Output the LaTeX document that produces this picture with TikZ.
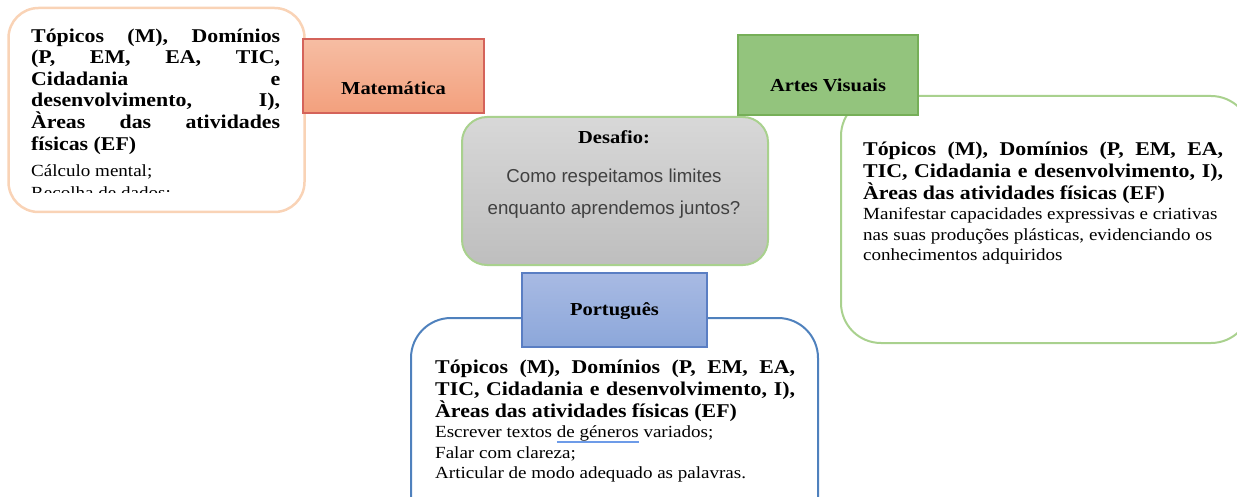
\documentclass[tikz,border=0pt]{standalone}
\usepackage{fontspec}
\setmainfont{Liberation Serif}[FakeStretch=1.12]
\newfontfamily\sansf{Liberation Sans}
\definecolor{peach}{HTML}{F9D3B6}
\definecolor{matfillT}{HTML}{F6BDA3}
\definecolor{matfillB}{HTML}{F3A07D}
\definecolor{matdraw}{HTML}{D4635A}
\definecolor{artfill}{HTML}{93C47D}
\definecolor{artdraw}{HTML}{76AF58}
\definecolor{lgreen}{HTML}{A9D18E}
\definecolor{grayT}{HTML}{D8D8D8}
\definecolor{grayB}{HTML}{BEBEBE}
\definecolor{porfillT}{HTML}{A8BAE3}
\definecolor{porfillB}{HTML}{8CA7DA}
\definecolor{pordraw}{HTML}{5A7EC3}
\definecolor{porbox}{HTML}{4F81BD}
\definecolor{ulblue}{HTML}{6D9BE8}
\definecolor{sanscol}{HTML}{404040}
\newcommand\firstl{\rule{0pt}{16pt}}
\newcommand\bluul[1]{{\setbox0\hbox{#1}\rlap{\color{ulblue}\rule[-5pt]{\wd0}{2.2pt}}\box0}}
\newcommand\boldtxt{\bfseries\fontsize{19.5}{22}\selectfont}
\newcommand\normtxt{\mdseries\fontsize{17}{20.5}\selectfont}
\begin{document}
\begin{tikzpicture}[x=1pt,y=-1pt,
  box/.style={draw, line width=2pt, rectangle, inner sep=0pt},
  hdr/.style={draw, line width=1.2pt, rectangle, inner sep=0pt},
  hdrtxt/.style={inner sep=0pt, font=\bfseries\fontsize{18.3}{20}\selectfont, anchor=base},
  txt/.style={inner sep=0pt, anchor=north west, align=justify}]
\useasboundingbox (0,0) rectangle (1237,497);
\clip (0,0) rectangle (1237,497);
\tolerance=10000 \hbadness=10000
% ---- Matematica
\node[box, draw=peach, line width=2.5pt, minimum width=296pt, minimum height=204pt, rounded corners=30pt] (matbox) at (156.5,110) {};
\begin{scope}
\clip (8,8) rectangle (305,193);
\node[txt, text width=249pt] (mattext) at (31,42-16) {\tolerance=10000\hbadness=10000\fontsize{19.5}{21.6}\bfseries\selectfont\firstl T\'opicos (M), Dom\'inios\linebreak (P, EM, EA, TIC,\linebreak Cidadania e\linebreak desenvolvimento, I),\linebreak \`Areas das atividades\linebreak f\'isicas (EF)\par\vskip 4pt
\mdseries\fontsize{17}{22}\selectfont C\'alculo mental;\par Recolha de dados:\par};
\end{scope}
\node[hdr, draw=matdraw, top color=matfillT, bottom color=matfillB, minimum width=181pt, minimum height=74pt] (mathdr) at (393.5,76) {};
\node[hdrtxt] (mattitle) at (393.5,95) {Matem\'atica};
% ---- Desafio
\node[box, draw=lgreen, top color=grayT, bottom color=grayB, minimum width=306pt, minimum height=148pt, rounded corners=25pt] (desbox) at (615,191) {};
\node[hdrtxt] (destitle) at (614,144) {Desafio:};
\node[inner sep=0pt, anchor=base, text=sanscol, font=\sansf\fontsize{18.7}{20}\selectfont] (desl1) at (614,183) {Como respeitamos limites};
\node[inner sep=0pt, anchor=base, text=sanscol, font=\sansf\fontsize{18.7}{20}\selectfont] (desl2) at (614,215) {enquanto aprendemos juntos?};
% ---- Artes Visuais
\node[box, draw=lgreen, minimum width=410pt, minimum height=247pt, rounded corners=40pt] (artbox) at (1046,219.5) {};
\node[hdr, draw=artdraw, fill=artfill, minimum width=180pt, minimum height=80pt] (arthdr) at (828,75) {};
\node[hdrtxt] (arttitle) at (828,92) {Artes Visuais};
\node[txt, text width=360pt] (arttext) at (863,155-16) {\tolerance=10000\hbadness=10000\boldtxt\firstl T\'opicos (M), Dom\'inios (P, EM, EA,\linebreak TIC, Cidadania e desenvolvimento, I),\linebreak \`Areas das atividades f\'isicas (EF)\par
\normtxt Manifestar capacidades expressivas e criativas\\ nas suas produ\c{c}\~oes pl\'asticas, evidenciando os\\ conhecimentos adquiridos\par};
% ---- Portugues
\node[box, draw=porbox, minimum width=407pt, minimum height=230pt, rounded corners=40pt] (porbox) at (614.5,433) {};
\node[hdr, draw=pordraw, top color=porfillT, bottom color=porfillB, minimum width=185pt, minimum height=74pt] (porhdr) at (614.5,310) {};
\node[hdrtxt] (portitle) at (614.5,315) {Portugu\^es};
\node[txt, text width=360pt] (portext) at (435,373-16) {\tolerance=10000\hbadness=10000\boldtxt\firstl T\'opicos (M), Dom\'inios (P, EM, EA,\linebreak TIC, Cidadania e desenvolvimento, I),\linebreak \`Areas das atividades f\'isicas (EF)\par
\normtxt Escrever textos \bluul{de g\'eneros} variados;\par Falar com clareza;\par Articular de modo adequado as palavras.\par};
\end{tikzpicture}
\end{document}
